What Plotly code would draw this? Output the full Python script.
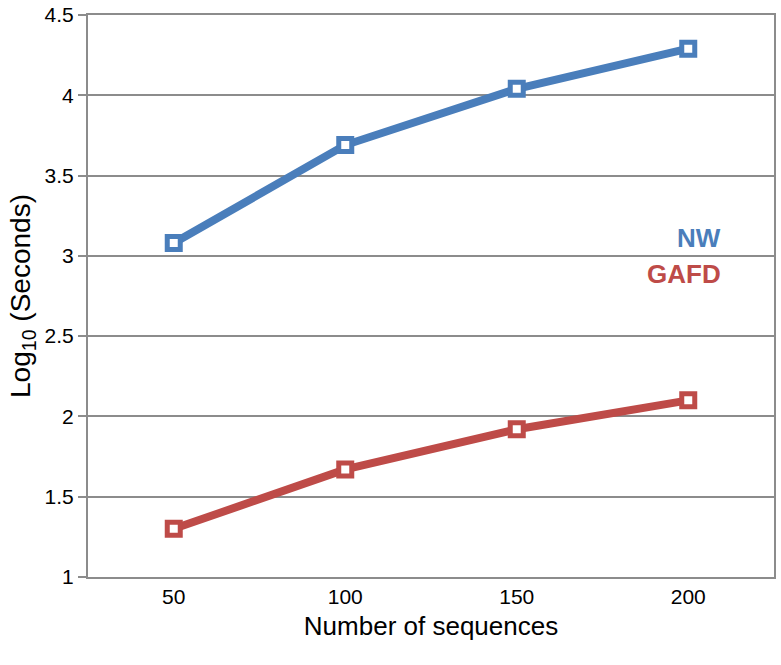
import plotly.graph_objects as go

# data
sequences = [50, 100, 150, 200]
nw_log_seconds = [3.08, 3.69, 4.04, 4.29]
gafd_log_seconds = [1.30, 1.67, 1.92, 2.10]

BLUE = "#4A7EBB"
RED = "#BE4B48"
GRID = "#8C8C8C"

fig = go.Figure()

for name, ys, col in [("NW", nw_log_seconds, BLUE), ("GAFD", gafd_log_seconds, RED)]:
    fig.add_trace(go.Scatter(
        x=sequences, y=ys, name=name, mode="lines+markers",
        line=dict(color=col, width=8),
        marker=dict(symbol="square", size=13, color="white",
                    line=dict(color=col, width=5)),
    ))

# series labels inside the plot
fig.add_annotation(x=210, y=3.11, text="<b>NW</b>", showarrow=False,
                   xanchor="right", font=dict(size=26, color=BLUE))
fig.add_annotation(x=210, y=2.89, text="<b>GAFD</b>", showarrow=False,
                   xanchor="right", font=dict(size=26, color=RED))

fig.update_layout(
    width=781, height=665,
    margin=dict(l=88, r=7, t=15, b=88),
    paper_bgcolor="white", plot_bgcolor="white",
    showlegend=False,
    font=dict(family="Liberation Sans, Arial, sans-serif", size=21, color="black"),
)
fig.update_xaxes(
    range=[25, 225], tickvals=sequences, ticktext=[str(s) for s in sequences],
    showgrid=False, zeroline=False, automargin=False,
    showline=True, linecolor=GRID, linewidth=2, mirror=True,
    ticks="", ticklen=0,
    title=dict(text="Number of sequences", font=dict(size=26), standoff=10),
)
fig.update_yaxes(
    range=[1, 4.5], tickvals=[1, 1.5, 2, 2.5, 3, 3.5, 4, 4.5],
    ticktext=["1", "1.5", "2", "2.5", "3", "3.5", "4", "4.5"],
    showgrid=True, gridcolor=GRID, gridwidth=2, zeroline=False, automargin=False,
    showline=True, linecolor=GRID, linewidth=2, mirror=True,
    ticks="outside", ticklen=8, tickcolor=GRID, tickwidth=2,
    title=dict(text="Log<sub>10</sub> (Seconds)", font=dict(size=28), standoff=6),
)

# drop the default body margin so the figure fills the window exactly
fig.write_html("out.html", config={"displayModeBar": False},
               post_script="document.body.style.margin='0';")
